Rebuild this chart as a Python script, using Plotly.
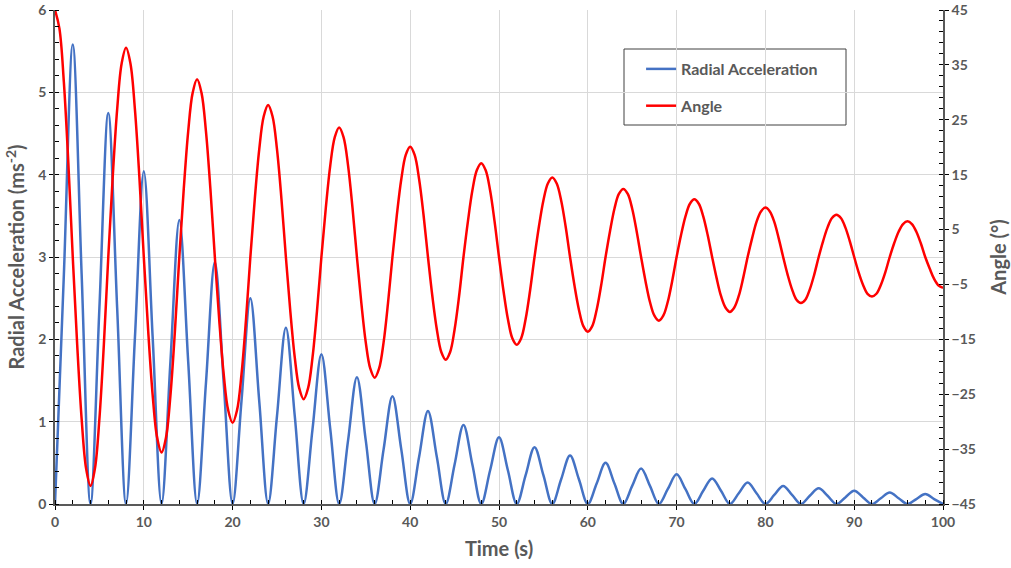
import plotly.graph_objects as go

# ---- data ----
# Radial acceleration, one sample per second
acc_time = list(range(0, 101))
radial_acc = [0, 2.79, 5.58, 2.79, 0, 2.38, 4.75, 2.38, 0, 2.02, 4.04, 2.02, 0, 1.73, 3.45, 1.73,
              0, 1.47, 2.94, 1.47, 0, 1.25, 2.50, 1.25, 0, 1.07, 2.14, 1.07, 0, 0.91, 1.82, 0.91,
              0, 0.77, 1.54, 0.77, 0, 0.66, 1.31, 0.66, 0, 0.57, 1.13, 0.57, 0, 0.48, 0.96, 0.48,
              0, 0.41, 0.81, 0.41, 0, 0.35, 0.69, 0.35, 0, 0.30, 0.59, 0.30, 0, 0.25, 0.50, 0.25,
              0, 0.22, 0.43, 0.22, 0, 0.18, 0.36, 0.18, 0, 0.16, 0.31, 0.16, 0, 0.13, 0.26, 0.13,
              0, 0.11, 0.22, 0.11, 0, 0.10, 0.19, 0.10, 0, 0.08, 0.16, 0.08, 0, 0.07, 0.14, 0.07,
              0, 0.06, 0.12, 0.06, 0]

# Angle, one sample per half second
ang_time = [i / 2 for i in range(201)]
angle_deg = [45, 41.6, 31.8, 17.2, 0,
             -16.0, -29.5, -38.5, -41.7, -38.5, -29.5, -16.0, 0,
             14.6, 26.9, 35.2, 38.1, 35.2, 26.9, 14.6, 0,
             -13.6, -25.2, -32.9, -35.6, -32.9, -25.2, -13.6, 0,
             12.4, 22.9, 29.9, 32.4, 29.9, 22.9, 12.4, 0,
             -11.6, -21.4, -27.9, -30.2, -27.9, -21.4, -11.6, 0,
             10.6, 19.6, 25.6, 27.7, 25.6, 19.6, 10.6, 0,
             -9.9, -18.3, -23.9, -25.9, -23.9, -18.3, -9.9, 0,
             9.0, 16.7, 21.8, 23.6, 21.8, 16.7, 9.0, 0,
             -8.4, -15.6, -20.3, -22.0, -20.3, -15.6, -8.4, 0,
             7.7, 14.2, 18.6, 20.1, 18.6, 14.2, 7.7, 0,
             -7.2, -13.2, -17.3, -18.7, -17.3, -13.2, -7.2, 0,
             6.5, 12.1, 15.8, 17.1, 15.8, 12.1, 6.5, 0,
             -6.1, -11.3, -14.8, -16.0, -14.8, -11.3, -6.1, 0,
             5.6, 10.3, 13.4, 14.5, 13.4, 10.3, 5.6, 0,
             -5.2, -9.6, -12.6, -13.6, -12.6, -9.6, -5.2, 0,
             4.7, 8.8, 11.5, 12.4, 11.5, 8.8, 4.7, 0,
             -4.4, -8.2, -10.7, -11.6, -10.7, -8.2, -4.4, 0,
             4.0, 7.4, 9.7, 10.5, 9.7, 7.4, 4.0, 0,
             -3.8, -7.1, -9.2, -10.0, -9.2, -7.1, -3.8, 0,
             3.4, 6.4, 8.3, 9.0, 8.3, 6.4, 3.4, 0,
             -3.2, -5.9, -7.8, -8.4, -7.8, -5.9, -3.2, 0,
             2.9, 5.4, 7.1, 7.7, 7.1, 5.4, 2.9, 0,
             -2.8, -5.1, -6.7, -7.2, -6.7, -5.1, -2.8, 0,
             2.5, 4.6, 6.0, 6.5, 6.0, 4.6, 2.5, 0,
             -2.1, -4.0, -5.2, -5.6]

x_ticks = [0, 10, 20, 30, 40, 50, 60, 70, 80, 90, 100]
y_ticks = [0, 1, 2, 3, 4, 5, 6]
y2_ticks = [-45, -35, -25, -15, -5, 5, 15, 25, 35, 45]

axis_col = "#595959"
grid_col = "#D9D9D9"
font_fam = "Lato"
tick_font = dict(family=font_fam, size=14, color=axis_col, weight="bold")
title_font = dict(family=font_fam, size=20, color=axis_col, weight="bold")

fig = go.Figure()
fig.add_trace(go.Scatter(x=acc_time, y=radial_acc, name="Radial Acceleration", mode="lines",
                         line=dict(color="#4472C4", width=2.5, shape="spline", smoothing=1.0),
                         legendgroup="a"))
fig.add_trace(go.Scatter(x=ang_time, y=angle_deg, name="Angle", mode="lines", yaxis="y2",
                         line=dict(color="#FF0000", width=2.5, shape="spline", smoothing=1.0),
                         legendgroup="b"))

fig.update_layout(
    width=1011, height=568,
    margin=dict(l=55, r=68, t=10, b=64),
    paper_bgcolor="white", plot_bgcolor="white",
    showlegend=True,
    legend=dict(x=0.660, y=0.915, xanchor="left", yanchor="top",
                bgcolor="rgba(0,0,0,0)", borderwidth=0,
                font=dict(family=font_fam, size=16, color=axis_col, weight="bold"),
                itemwidth=30, tracegroupgap=13),
    xaxis=dict(range=[0, 100], tickvals=x_ticks, showgrid=True, gridcolor=grid_col,
               gridwidth=1, zeroline=False, showline=True, linecolor=axis_col, linewidth=1.5,
               ticks="outside", ticklen=4, tickcolor="#000", tickwidth=1.3, automargin=False,
               minor=dict(dtick=2, ticks="inside", ticklen=4, tickcolor="#000", showgrid=False),
               tickfont=tick_font,
               title=dict(text="Time (s)", standoff=13, font=title_font)),
    yaxis=dict(range=[0, 6], tickvals=y_ticks, showgrid=True, gridcolor=grid_col,
               gridwidth=1, zeroline=False, showline=True, linecolor=axis_col, linewidth=1.5,
               ticks="outside", ticklen=4, tickcolor="#000", tickwidth=1.3, automargin=False,
               minor=dict(dtick=0.2, ticks="inside", ticklen=4, tickcolor="#000", showgrid=False),
               tickfont=tick_font,
               title=dict(text="Radial Acceleration (ms<sup>-2</sup>)", standoff=8,
                          font=title_font)),
    yaxis2=dict(range=[-45, 45], tickvals=y2_ticks, overlaying="y", side="right",
                showgrid=False, zeroline=False, showline=True, linecolor=axis_col, linewidth=1.5,
                ticks="outside", ticklen=4, tickcolor="#000", tickwidth=1.3, automargin=False,
                minor=dict(tick0=-45, dtick=2, ticks="inside", ticklen=4, tickcolor="#000"),
                tickfont=tick_font,
                title=dict(text="Angle (°)", standoff=17, font=title_font)),
    # overlay axes to give the major ticks a crossing look
    xaxis3=dict(range=[0, 100], tickvals=x_ticks, overlaying="x", anchor="y", side="bottom",
                showticklabels=False, showgrid=False, zeroline=False, showline=False,
                ticks="inside", ticklen=4, tickcolor="#000", tickwidth=1.3, automargin=False),
    yaxis3=dict(range=[0, 6], tickvals=y_ticks, overlaying="y", side="left", anchor="x",
                showticklabels=False, showgrid=False, zeroline=False, showline=False,
                ticks="inside", ticklen=4, tickcolor="#000", tickwidth=1.3, automargin=False),
    yaxis4=dict(range=[-45, 45], tickvals=y2_ticks, overlaying="y", side="right", anchor="x",
                showticklabels=False, showgrid=False, zeroline=False, showline=False,
                ticks="inside", ticklen=4, tickcolor="#000", tickwidth=1.3, automargin=False),
    shapes=[dict(type="rect", xref="paper", yref="paper",
                 x0=(624 - 55) / 888, x1=(846 - 55) / 888,
                 y0=(504 - 125) / 494, y1=(504 - 49) / 494,
                 line=dict(color="#404040", width=1), fillcolor="white", layer="below")],
)

# invisible traces to activate overlay axes
fig.add_trace(go.Scatter(x=[0], y=[0], xaxis="x3", yaxis="y3", mode="markers",
                         marker=dict(opacity=0), showlegend=False, hoverinfo="skip"))
fig.add_trace(go.Scatter(x=[0], y=[0], xaxis="x3", yaxis="y4", mode="markers",
                         marker=dict(opacity=0), showlegend=False, hoverinfo="skip"))

fig.write_html("out.html")
